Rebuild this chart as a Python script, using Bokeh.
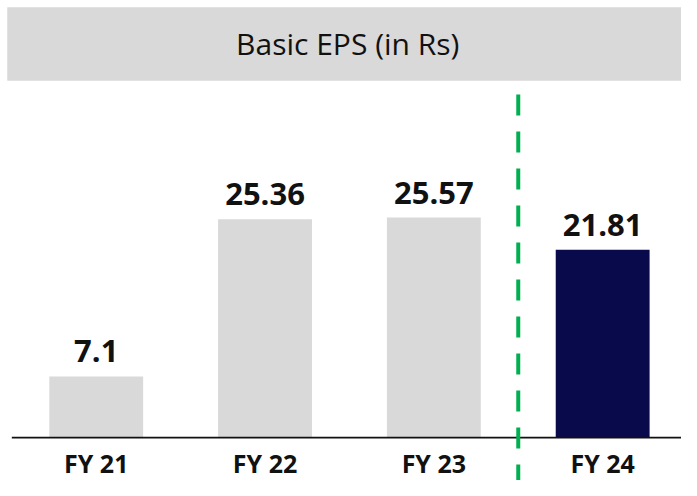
from bokeh.plotting import figure
from bokeh.models import ColumnDataSource, Range1d, Label, BoxAnnotation
from bokeh.core.properties import value
from bokeh.embed import file_html
from bokeh.resources import INLINE

# ---- data ----
categories = ["FY 21", "FY 22", "FY 23", "FY 24"]
eps = [7.1, 25.36, 25.57, 21.81]
eps_labels = ["7.1", "25.36", "25.57", "21.81"]
bar_colors = ["#D9D9D9", "#D9D9D9", "#D9D9D9", "#080A4C"]
title_text = "Basic EPS (in Rs)"
divider_after = 2  # dashed divider between FY 23 and FY 24

positions = list(range(len(categories)))
src = ColumnDataSource(dict(x=positions, top=eps, label=eps_labels,
                            cat=categories, color=bar_colors,
                            zero=[0] * len(eps)))

X0, X1 = -0.567, 3.467
Y0, Y1 = -4.984, 50.78

p = figure(width=681, height=480, output_backend="svg", toolbar_location=None,
           x_range=Range1d(X0, X1), y_range=Range1d(Y0, Y1),
           x_axis_type=None, y_axis_type=None, min_border=0)
p.outline_line_color = None
p.grid.visible = False
p.background_fill_color = "white"
p.border_fill_color = "white"

# title banner
p.add_layout(BoxAnnotation(left=-0.527, top=49.99, bottom=41.45,
                           fill_color="#D9D9D9", fill_alpha=1,
                           line_alpha=0, level="underlay"))
p.add_layout(Label(x=1.49, y=44.37, y_offset=12, text=title_text,
                   text_align="center", text_baseline="alphabetic",
                   text_font="Open Sans", text_font_size="30px",
                   text_color="#111111"))

# bars
p.vbar(x="x", top="top", bottom=0, width=0.556, color="color", line_alpha=0,
       source=src)

# baseline
p.line(x=[-0.5, X1 + 0.1], y=[0, 0], line_color="#111111", line_width=1.6)

# dashed divider
p.line(x=[divider_after + 0.5, divider_after + 0.5], y=[39.87, Y0],
       line_color="#00B050", line_width=4, line_dash="21 16")

# value labels
p.text(x="x", y="top", text="label", source=src, text_align="center",
       text_baseline="alphabetic", y_offset=-25, text_font=value("Open Sans"),
       text_font_style="bold", text_font_size="31px", text_color="#111111")

# category labels
p.text(x="x", y="zero", text="cat", source=src, text_align="center",
       text_baseline="alphabetic", y_offset=25, text_font=value("Open Sans"),
       text_font_style="bold", text_font_size="25px", text_color="#111111")

open("out.html", "w").write(file_html(p, INLINE))
